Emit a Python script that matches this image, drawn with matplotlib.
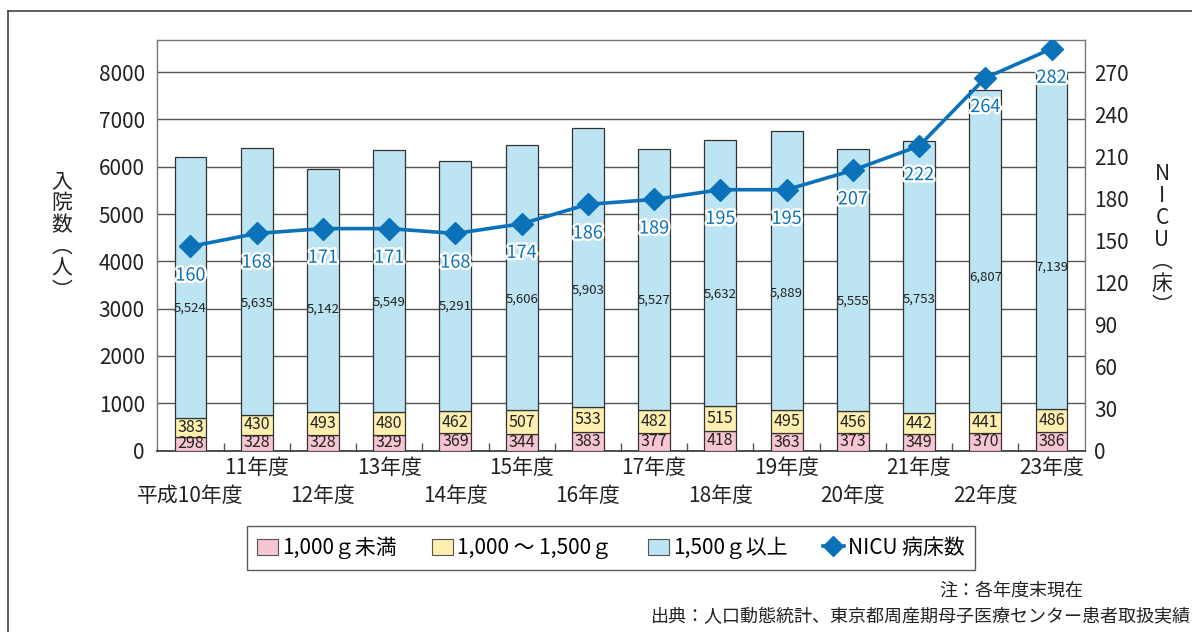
import matplotlib
matplotlib.use("Agg")
import matplotlib.pyplot as plt
import matplotlib.patheffects as pe
from matplotlib.lines import Line2D
from matplotlib.patches import Patch
import matplotlib.transforms as mtransforms
import numpy as np

plt.rcParams['font.family'] = ['Noto Sans CJK JP', 'DejaVu Sans']

years = ["平成10年度", "11年度", "12年度", "13年度", "14年度", "15年度", "16年度",
         "17年度", "18年度", "19年度", "20年度", "21年度", "22年度", "23年度"]
under_1000 = [298, 328, 328, 329, 369, 344, 383, 377, 418, 363, 373, 349, 370, 386]
g1000_1500 = [383, 430, 493, 480, 462, 507, 533, 482, 515, 495, 456, 442, 441, 486]
over_1500 = [5524, 5635, 5142, 5549, 5291, 5606, 5903, 5527, 5632, 5889, 5555, 5753, 6807, 7139]
nicu_beds = [160, 168, 171, 171, 168, 174, 186, 189, 195, 195, 207, 222, 264, 282]

legend_labels = ["1,000ｇ未満", "1,000 ～ 1,500ｇ", "1,500ｇ以上", "NICU 病床数"]
note_text = "注：各年度末現在"
source_text = "出典：人口動態統計、東京都周産期母子医療センター患者取扱実績"

c_pink = "#f8c5d2"
c_yellow = "#fff0b0"
c_blue = "#bde4f2"
c_line = "#0b72ba"
c_grid = "#555555"
c_text = "#222222"

W, H = 1192, 632
fig = plt.figure(figsize=(W / 100, H / 100), dpi=100)

# plot area in pixel coordinates
x0, x1, y_top, y_bot = 157.3, 1084.7, 40.0, 450.6
ax = fig.add_axes([x0 / W, 1 - y_bot / H, (x1 - x0) / W, (y_bot - y_top) / H])

n = len(years)
x = np.arange(n)
bw = 0.48
left_max = 8680
ax.set_xlim(-0.5, n - 0.5)
ax.set_ylim(0, left_max)
ax.set_yticks(np.arange(0, 8001, 1000))
ax.set_axisbelow(True)
ax.yaxis.grid(True, color=c_grid, lw=1.0)
ax.tick_params(axis='y', length=0, pad=9, labelsize=15, labelcolor=c_text)

b1 = np.array(under_1000)
b2 = np.array(g1000_1500)
b3 = np.array(over_1500)
ax.bar(x, b1, bw, color=c_pink, edgecolor="#333333", lw=0.9, zorder=3)
ax.bar(x, b2, bw, bottom=b1, color=c_yellow, edgecolor="#333333", lw=0.9, zorder=3)
ax.bar(x, b3, bw, bottom=b1 + b2, color=c_blue, edgecolor="#333333", lw=0.9, zorder=3)

for i in range(n):
    ax.text(x[i], b1[i] / 2, f"{under_1000[i]:,}", ha='center', va='center',
            fontsize=11.5, color=c_text, zorder=5)
    ax.text(x[i], b1[i] + b2[i] / 2, f"{g1000_1500[i]:,}", ha='center', va='center',
            fontsize=11.5, color=c_text, zorder=5)
    ax.text(x[i], b1[i] + b2[i] + b3[i] * 0.42, f"{over_1500[i]:,}", ha='center',
            va='center', fontsize=9.5, color=c_text, zorder=5)

# x ticks: minor ticks between bars, labels in two rows
ax.set_xticks([])
ax.set_xticks(np.arange(0.5, n - 0.5, 1), minor=True)
ax.tick_params(axis='x', which='minor', direction='in', length=6, color=c_grid, width=1)
trans = mtransforms.blended_transform_factory(ax.transData, ax.transAxes)
ax_h_px = y_bot - y_top
for i, lab in enumerate(years):
    off_px = 17 if i % 2 == 1 else 45
    ax.text(x[i], -off_px / ax_h_px, lab, transform=trans, ha='center', va='center',
            fontsize=15, color=c_text)

for s in ['left', 'right', 'top']:
    ax.spines[s].set_color("#777777")
    ax.spines[s].set_linewidth(1.0)
ax.spines['bottom'].set_color("#333333")
ax.spines['bottom'].set_linewidth(1.2)

# right axis with NICU tick labels
ax2 = ax.twinx()
ax2.set_ylim(0, left_max * 270 / 8000)
ax2.set_yticks(np.arange(0, 271, 30))
ax2.tick_params(axis='y', length=0, pad=7, labelsize=15, labelcolor=c_text)
for s in ax2.spines.values():
    s.set_visible(False)

# line axis (as drawn in the source chart)
ax3 = ax.twinx()
ax3.set_ylim(34, 287.4)
ax3.axis('off')
ax3.plot(x, nicu_beds, color=c_line, lw=2.6, marker='D', ms=11, zorder=6)
for i, v in enumerate(nicu_beds):
    ax3.annotate(str(v), (x[i], v), xytext=(0, -21), textcoords='offset points',
                 ha='center', va='center', fontsize=13, color=c_line, zorder=7,
                 path_effects=[pe.withStroke(linewidth=3.5, foreground='white')])

# axis titles (vertical)
fig.text(62 / W, 1 - 236 / H, "\n".join("入院数︵人︶"), ha='center', va='center',
         fontsize=15, color=c_text, linespacing=1.0)
fig.text(1162 / W, 1 - 240 / H, "\n".join("NICU︵床︶"), ha='center', va='center',
         fontsize=15, color=c_text, linespacing=1.0)

# legend
handles = [Patch(facecolor=c_pink, edgecolor="#555555", lw=0.8),
           Patch(facecolor=c_yellow, edgecolor="#555555", lw=0.8),
           Patch(facecolor=c_blue, edgecolor="#555555", lw=0.8),
           Line2D([0], [0], color=c_line, lw=2.6, marker='D', ms=10)]
leg = fig.legend(handles, legend_labels, loc='center', bbox_to_anchor=(611 / W, 1 - 548 / H),
                 ncol=4, frameon=True, fancybox=False, fontsize=15, handlelength=1.0,
                 handleheight=0.8, handletextpad=0.2, columnspacing=1.7, borderpad=0.5)
leg.get_frame().set_edgecolor("#333333")
leg.get_frame().set_linewidth(1.0)

# notes
fig.text(1083 / W, 1 - 591 / H, note_text, ha='right', va='center', fontsize=13, color=c_text)
fig.text(1191 / W, 1 - 617 / H, source_text, ha='right', va='center', fontsize=13, color=c_text)

# outer frame (top and left edges visible)
fig.add_artist(Line2D([8 / W, 1], [1 - 11 / H, 1 - 11 / H], transform=fig.transFigure,
                      color="#444444", lw=1.2))
fig.add_artist(Line2D([8 / W, 8 / W], [0, 1 - 11 / H], transform=fig.transFigure,
                      color="#444444", lw=1.2))

fig.savefig("out.png", dpi=100)
